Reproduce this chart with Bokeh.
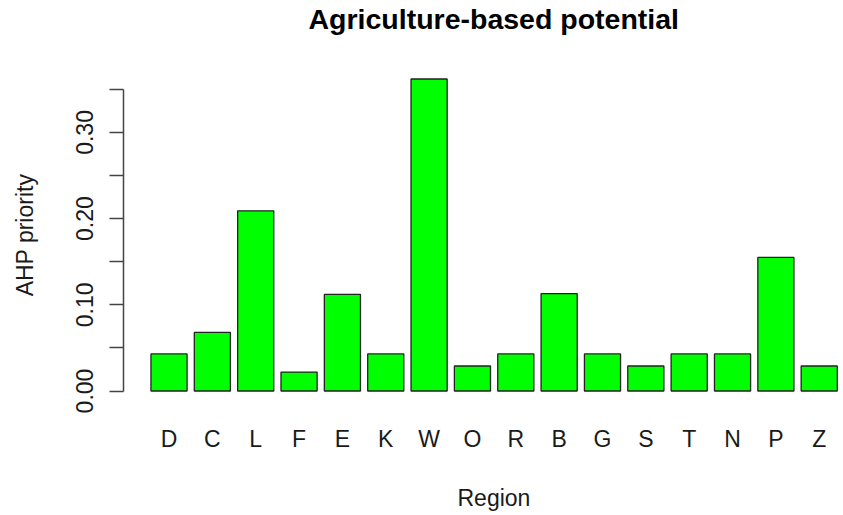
from bokeh.plotting import figure
from bokeh.models import Range1d, FixedTicker, PrintfTickFormatter, CustomJSTickFormatter, Title, ColumnDataSource
from bokeh.embed import file_html
from bokeh.resources import INLINE

# ---- data ----
regions = ["D", "C", "L", "F", "E", "K", "W", "O", "R", "B", "G", "S", "T", "N", "P", "Z"]
priority = [0.043, 0.068, 0.209, 0.022, 0.112, 0.043, 0.362, 0.029,
            0.043, 0.113, 0.043, 0.029, 0.043, 0.043, 0.155, 0.029]
y_major_ticks = [0.0, 0.1, 0.2, 0.3]
y_minor_ticks = [0.05, 0.15, 0.25, 0.35]
title_text = "Agriculture-based potential"
x_label = "Region"
y_label = "AHP priority"

FONT = "Liberation Sans"
TXT = "#1a1a1a"
AX = "#444444"

idx = list(range(len(regions)))
src = ColumnDataSource(dict(x=idx, top=priority, region=regions))

p = figure(width=843, height=515, output_backend="svg", toolbar_location=None,
           x_range=Range1d(-1.05, 15.56), y_range=Range1d(-0.0145, 0.3765),
           min_border_left=123, min_border_right=0, min_border_top=66, min_border_bottom=112)
p.outline_line_color = None
p.xgrid.visible = False
p.ygrid.visible = False
p.background_fill_color = "white"
p.border_fill_color = "white"

p.vbar(x="x", top="top", bottom=0, width=1 / 1.2, source=src,
       fill_color="#00FF00", line_color="#222222", line_width=1.3)

# x axis: letters only
xa = p.xaxis[0]
xa.ticker = FixedTicker(ticks=idx)
xa.formatter = CustomJSTickFormatter(args=dict(labels=regions),
                                     code="return labels[Math.round(tick)] || '';")
xa.axis_line_color = None
xa.major_tick_line_color = None
xa.minor_tick_line_color = None
xa.major_tick_out = 0
xa.major_tick_in = 0
xa.major_label_standoff = 22
xa.major_label_text_font = FONT
xa.major_label_text_font_size = "23px"
xa.major_label_text_color = TXT

# y axis
ya = p.yaxis[0]
ya.ticker = FixedTicker(ticks=y_major_ticks, minor_ticks=y_minor_ticks)
ya.formatter = PrintfTickFormatter(format="%.2f")
ya.bounds = (0, 0.35)
ya.axis_line_color = AX
ya.axis_line_width = 1.5
ya.major_tick_line_color = AX
ya.major_tick_line_width = 1.5
ya.minor_tick_line_color = AX
ya.minor_tick_line_width = 1.5
ya.major_tick_out = 14
ya.major_tick_in = 0
ya.minor_tick_out = 14
ya.minor_tick_in = 0
ya.major_label_orientation = "parallel"
ya.major_label_standoff = 16
ya.major_label_text_font = FONT
ya.major_label_text_font_size = "23px"
ya.major_label_text_color = TXT
ya.axis_label = y_label
ya.axis_label_text_font = FONT
ya.axis_label_text_font_size = "23px"
ya.axis_label_text_font_style = "normal"
ya.axis_label_text_color = TXT
ya.axis_label_standoff = 36

# title and x label, positioned over the centre of the plot region
p.add_layout(Title(text=title_text, align="left", offset=185, standoff=0,
                   vertical_align="bottom", padding=dict(left=0, right=0, top=0, bottom=32),
                   text_font=FONT, text_font_style="bold", text_font_size="28.5px",
                   text_color="black"), "above")
p.add_layout(Title(text=x_label, align="left", offset=334, standoff=0,
                   vertical_align="top", padding=dict(left=0, right=0, top=30, bottom=0),
                   text_font=FONT, text_font_style="normal", text_font_size="23px",
                   text_color=TXT), "below")

open("out.html", "w").write(file_html(p, INLINE))
